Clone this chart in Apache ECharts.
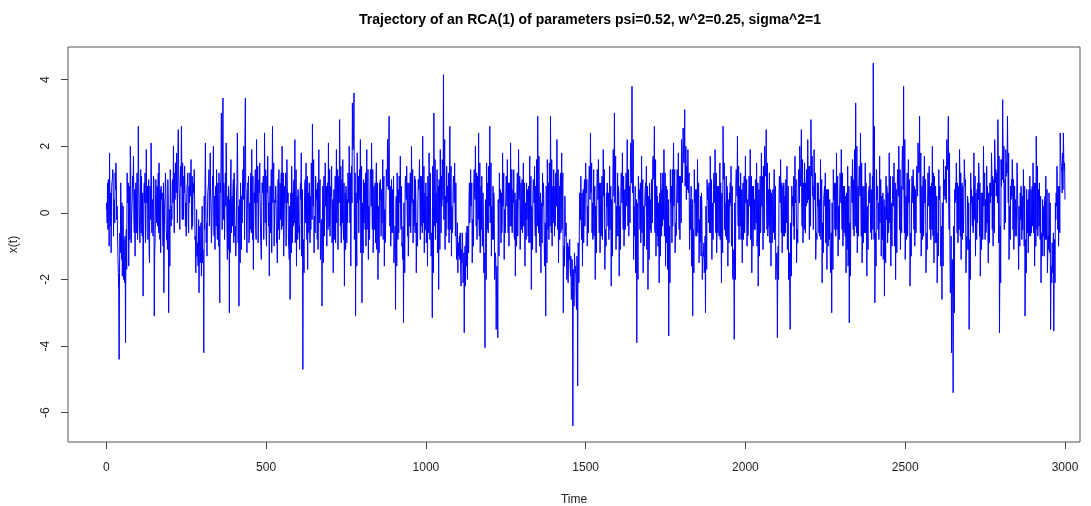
<!DOCTYPE html>
<html><head><meta charset="utf-8">
<script src="https://cdn.jsdelivr.net/npm/echarts@6/dist/echarts.min.js"></script>
<style>html,body{margin:0;padding:0;background:#fff}#c{width:1091px;height:506px}</style>
</head><body><div id="c"></div>
<script>
const TITLE = "Trajectory of an RCA(1) of parameters psi=0.52, w^2=0.25, sigma^2=1";
const X_NAME = "Time";
const Y_NAME = "x(t)";
const X_TICKS = [0, 500, 1000, 1500, 2000, 2500, 3000];
const Y_TICKS = [-6, -4, -2, 0, 2, 4];
const STEP = 5; // time spacing between read values of one array
// values read at t = 0, 5, 10, ...
const values = [
 0.1,-0.5,1.8,-1.2,1.3,0.4,1.5,-0.6,-4.4,0.9,-1.9,-0.8,-3.9,1.2,-1.6,2.0,-0.3,1.7,-1.3,0.6,
 2.6,-0.9,1.1,-2.5,0.3,1.9,-0.8,-1.5,2.1,0.2,-3.1,1.0,-0.4,1.5,-1.2,0.6,-2.4,1.2,-0.7,-3.0,
 1.3,-0.2,2.0,0.4,1.8,2.5,-0.5,2.6,0.2,1.4,-0.7,1.2,0.3,1.6,-0.4,1.3,-1.8,-0.9,-2.4,-1.2,
 0.2,-4.2,2.1,-1.3,0.9,1.8,-0.6,2.0,-1.1,1.3,0.1,-2.7,3.0,3.45,-0.8,2.1,0.5,-3.0,1.6,-0.4,
 1.2,-1.3,2.4,-2.8,0.9,-0.3,2.0,3.45,-1.2,1.1,-0.5,1.9,-1.7,0.8,2.2,-0.9,1.5,-1.4,0.6,2.4,
 -0.6,1.7,-1.9,0.4,2.6,-1.0,0.8,-1.5,1.3,-0.2,2.0,-1.3,0.6,1.6,-0.9,-2.6,1.4,-0.4,2.2,-1.6,
 0.7,-1.1,1.8,-4.7,0.3,1.5,-1.7,0.9,-0.5,2.67,-1.2,1.1,-0.8,1.9,-1.4,-2.8,0.6,1.5,-1.0,2.1,
 -0.7,1.4,-1.8,0.5,1.9,-1.1,2.8,-0.9,1.6,-2.2,0.8,-0.3,2.0,-1.6,3.3,3.6,-3.1,1.8,-0.6,2.2,
 -2.7,1.0,-0.5,1.9,-1.4,0.6,2.1,-1.2,0.3,1.5,-2.0,0.9,-0.7,1.6,-1.6,0.4,2.2,2.9,-1.0,0.7,
 -1.5,-2.9,1.2,-0.6,1.7,-1.0,-3.3,0.8,1.4,-1.3,0.5,2.0,-0.9,1.1,-1.8,0.3,1.6,-0.4,2.3,-1.2,
 0.9,-1.6,1.8,-0.3,-3.15,3.0,-0.8,1.3,-2.3,1.9,0.2,4.15,-1.1,1.4,-0.5,2.6,-1.3,0.7,1.5,-0.9,
 -1.8,-0.7,-2.2,-0.9,-3.6,-1.1,-2.0,0.4,1.3,-1.5,0.9,2.0,-0.8,2.4,-1.2,1.1,-0.4,-4.05,1.5,-0.6,
 2.6,-1.3,0.8,-2.0,-3.5,-3.75,1.2,-0.9,1.8,-1.4,0.5,1.6,-1.0,2.1,-0.6,1.3,-1.9,0.7,1.9,-1.1,
 0.4,1.5,-1.6,0.9,-0.7,1.7,-2.3,0.6,1.4,-1.2,2.9,0.1,-1.8,1.2,-0.5,-3.1,1.6,-0.8,2.9,-1.0,
 1.3,-0.4,2.2,-1.5,0.8,1.8,-3.0,0.5,-1.3,-2.1,-0.8,-2.6,-6.4,-1.2,-2.4,-5.2,-0.7,1.1,-1.6,0.6,
 1.5,-1.0,0.9,2.4,-0.6,1.3,-2.0,0.7,1.6,-1.2,0.3,1.9,-1.7,0.6,-0.4,1.4,-2.2,0.8,3.0,-1.1,
 1.2,-1.9,0.6,1.8,-1.0,0.4,2.2,-0.7,1.5,3.8,-1.4,0.8,-3.9,1.1,-0.5,1.7,-1.8,0.3,1.4,-2.3,
 0.9,-0.6,1.6,2.6,-1.3,0.5,-2.1,1.2,-0.4,1.9,-1.6,0.7,-3.7,1.3,-0.9,2.1,-1.2,0.6,1.8,-0.8,
 2.2,2.55,3.1,0.4,1.9,-1.1,0.8,-3.1,1.3,-0.7,1.6,-1.5,0.5,-2.0,-0.9,-3.0,1.0,-0.3,1.7,-1.4,
 0.7,1.9,-1.2,0.4,1.5,-2.1,2.6,-0.5,1.1,-1.6,0.6,1.4,-1.9,-3.8,0.9,2.3,-0.8,1.2,-1.5,0.5,
 1.7,-1.0,0.3,1.9,-1.8,0.8,-0.5,1.5,-2.2,0.6,1.8,-1.1,2.0,2.5,-0.7,1.2,-1.6,0.4,1.3,-2.0,
 -3.75,0.5,1.6,-1.2,0.9,-0.6,1.4,-2.0,-3.5,0.8,-0.4,1.7,-1.5,0.6,2.0,2.5,-0.9,1.5,0.2,2.2,
 -0.8,2.8,0.5,1.9,-1.4,0.9,-0.6,1.6,-2.1,0.4,1.2,-1.7,0.7,-0.9,-3.0,1.3,-0.5,1.8,-1.3,0.6,
 1.9,-1.0,0.8,-1.8,1.4,-3.3,0.5,1.6,-0.7,3.3,-1.2,0.9,2.4,-1.5,0.3,1.5,-1.9,0.6,1.2,-0.8,
 4.5,-2.7,1.3,-0.5,1.7,-1.3,0.6,-2.5,1.1,-0.9,1.8,-1.6,0.4,1.5,-2.0,0.8,2.0,-1.1,1.2,3.8,
 -1.4,0.7,1.6,-2.2,0.5,1.3,-1.0,0.9,2.1,2.9,-1.3,0.6,1.7,-1.8,0.3,1.4,-0.8,2.0,-1.5,0.8,
 -2.1,1.3,-0.6,-2.6,1.6,0.4,2.2,2.9,-1.2,-4.2,-5.4,0.7,1.5,-0.9,1.9,-1.4,0.8,1.6,-1.8,0.5,
 -3.5,1.2,-0.4,1.8,-1.3,0.7,1.5,-1.9,0.3,2.0,-0.8,1.4,-1.5,0.9,1.8,-1.0,2.2,0.5,2.8,-3.6,
 1.6,3.4,-0.5,1.9,2.9,-1.4,0.8,1.6,-1.1,0.4,1.5,-1.7,0.6,-0.8,1.3,-3.1,0.7,-1.2,1.1,-0.6,
 1.5,-1.6,2.3,-0.7,0.9,-2.1,0.4,-1.3,1.1,-1.8,0.6,-3.5,-0.9,-3.55,0.3,1.4,-1.0,2.4,1.2,2.4,0.4
];
// values read at t = 1.25, 6.25, 11.25, ...
const valuesQ1 = [
 0.3,1.0,0.2,0.6,1.1,-0.3,0.9,-1.3,-1.8,-0.2,-1.1,-1.6,-1.0,0.6,-0.4,1.3,0.5,-0.2,0.4,1.2,
 1.1,0.2,-0.5,-1.1,1.2,0.3,-0.2,0.8,0.9,-0.7,-1.2,0.2,0.6,-0.1,0.8,-0.4,-0.9,0.7,-1.1,-0.8,
 0.6,0.9,0.4,1.5,0.8,1.3,0.9,1.1,-0.2,0.6,0.3,-0.3,1.2,0.2,0.7,0.4,-0.9,-1.4,-1.0,-0.3,
 -1.5,0.5,0.4,-0.2,1.3,0.5,0.3,-0.4,0.6,-0.3,-1.0,0.9,1.6,-0.2,0.5,1.2,-1.1,0.4,-0.6,0.7,
 0.2,-0.8,1.1,-0.6,-0.2,0.9,1.4,0.8,0.1,-0.9,0.9,0.2,-0.4,1.3,0.3,-0.2,0.4,0.2,1.1,0.7,
 -1.0,0.5,0.2,1.3,0.3,-0.3,0.4,0.2,-0.8,0.7,0.4,-0.5,1.2,0.8,-1.1,-0.2,0.5,0.9,-0.9,0.2,
 0.1,0.6,-1.3,-0.8,0.9,0.3,0.2,-0.4,1.5,0.6,-0.1,0.4,0.9,-0.3,-1.2,-0.4,1.1,0.2,0.5,0.6,
 0.2,-0.9,0.3,1.1,-0.3,0.5,1.3,0.2,-0.5,-0.3,0.3,1.2,0.6,0.2,2.0,-0.8,0.6,0.3,0.8,-1.2,
 0.3,-0.3,1.2,-0.5,0.2,1.3,0.4,-0.5,0.9,-1.1,0.2,0.4,0.7,-0.8,0.1,1.3,1.4,0.2,-0.3,-0.5,
 -1.1,0.4,0.2,1.1,-0.3,-0.9,0.3,1.1,0.2,-0.7,1.2,0.3,0.4,-0.6,-0.3,1.0,0.5,0.8,0.2,0.4,
 -0.9,1.1,0.2,-1.3,1.4,0.3,0.4,-1.2,1.0,0.6,1.6,-0.2,0.5,0.3,1.2,-0.5,0.2,1.1,0.3,-1.4,
 -0.9,-1.4,-1.1,-2.1,-1.5,-0.6,-0.4,0.9,0.2,-0.2,1.3,0.6,1.1,-0.3,0.2,-1.0,-1.8,0.3,0.6,1.4,
 -0.3,0.2,-0.8,-1.7,-1.9,0.4,0.3,0.6,0.2,0.1,1.1,0.2,0.6,0.4,0.3,-0.7,-0.2,1.2,0.4,-0.2,
 1.0,-0.4,0.3,-0.2,0.8,-0.9,0.2,1.0,-0.3,1.6,0.5,-1.0,0.3,0.2,-1.6,0.8,0.4,1.5,0.3,0.4,
 0.3,1.2,0.6,-0.2,1.2,-0.5,-1.3,-0.4,-2.0,-1.2,-1.6,-2.5,-1.7,-1.6,-2.9,-0.9,0.6,-0.3,-0.2,1.0,
 0.7,0.2,1.4,0.6,0.3,-0.7,0.2,1.3,0.3,-0.3,1.1,0.5,-0.9,0.2,0.6,-0.5,0.4,1.9,0.3,0.2,
 -0.7,0.2,1.2,0.4,-0.3,1.2,0.6,0.4,2.1,0.7,0.2,-1.8,0.3,0.4,0.9,-0.6,0.2,0.7,-1.1,0.3,
 0.2,1.0,1.7,-0.5,-0.2,-1.0,0.4,0.3,1.2,-0.7,0.2,-1.7,-0.4,0.3,1.3,0.2,-0.3,1.3,0.4,1.1,
 1.6,1.8,0.8,1.4,0.6,0.2,-1.6,-0.5,0.3,0.7,-0.6,-0.2,-1.3,-1.4,-1.8,0.2,0.4,0.9,-0.6,0.3,
 1.2,0.3,-0.4,0.8,-0.8,0.6,1.2,0.3,-0.8,0.4,0.2,-1.0,-2.0,0.3,1.3,0.2,0.4,-0.8,0.1,1.1,
 0.3,0.4,1.1,-0.8,0.2,-0.2,1.0,-1.0,0.3,1.1,0.2,1.4,1.5,0.2,-0.3,-0.9,0.6,0.7,-0.8,-1.7,
 -1.5,1.1,0.3,-0.1,0.4,1.0,-1.1,-1.6,-0.3,0.2,1.1,0.3,-0.6,1.3,1.4,0.3,0.6,0.5,1.3,0.9,
 1.4,1.6,0.8,0.4,-0.7,0.2,0.4,-0.8,-0.3,0.6,-0.9,0.2,-0.3,-1.8,0.3,0.4,0.9,-0.5,0.2,1.2,
 0.3,-0.4,0.2,0.6,-1.6,-0.3,1.1,0.3,1.9,0.3,-0.3,1.4,0.5,-0.8,0.8,-0.6,0.2,0.7,-0.2,0.3,
 1.2,-1.1,0.4,0.3,-0.3,0.5,-1.4,0.2,-0.2,0.6,-0.3,0.3,1.1,-1.0,0.2,1.3,0.4,-0.2,2.0,0.4,
 -0.3,1.2,0.3,-1.2,1.1,0.2,-0.3,1.4,1.6,0.5,-0.4,1.1,0.3,-0.9,1.2,0.4,0.6,-0.6,1.1,0.2,
 -1.3,0.4,-1.6,0.3,0.5,1.4,1.7,0.3,-2.4,-2.0,-0.4,0.3,0.6,-0.3,1.1,0.2,-0.2,1.1,-1.2,0.4,
 -1.4,0.3,0.5,-0.2,0.6,-0.3,1.1,-0.8,0.6,0.2,0.4,-0.3,0.6,0.3,1.2,0.6,1.5,1.1,1.6,-1.7,
 0.8,1.9,0.6,1.1,1.7,0.2,0.4,1.1,0.3,-0.3,0.9,0.2,-0.2,0.5,-0.4,-1.4,-0.3,0.2,-0.4,0.3,
 0.4,-0.2,1.2,0.2,-0.4,-1.1,-0.2,0.3,-0.3,-1.2,-0.5,-1.6,-1.8,-1.5,-0.2,0.5,0.3,1.8,0.6,1.6
];
// values read at t = 2.5, 7.5, 12.5, ...
const valuesMid = [
 -0.3,0.8,-0.4,0.9,-0.7,1.2,-0.2,-1.8,-0.6,-1.4,0.2,-2.1,-0.5,0.3,0.8,-0.9,1.1,-0.6,0.9,-0.8,
 0.4,1.3,-0.7,0.6,-0.9,0.5,1.0,0.7,-0.6,1.1,-0.9,-0.3,1.2,-0.8,0.4,-1.0,0.3,-0.5,1.0,0.1,
 -0.4,1.0,-0.6,1.2,-0.3,0.7,1.4,-0.2,1.1,-0.4,0.8,-0.6,1.0,-0.5,0.9,-0.8,0.1,-1.6,-0.4,-1.9,
 -1.1,-0.5,-0.9,0.6,-0.4,0.3,1.1,-0.7,0.8,-0.8,1.2,0.6,-0.5,0.9,1.2,-0.6,0.8,-1.2,0.3,1.0,
 -0.7,0.5,-0.9,0.4,-1.1,1.3,-0.8,0.6,0.9,-0.7,1.2,-0.8,0.6,-0.5,0.4,1.0,-0.6,0.9,-0.8,-0.3,
 1.1,-0.4,0.8,-1.2,0.9,0.4,-0.9,1.0,-0.6,1.2,-0.4,0.8,-1.0,0.3,-1.4,0.6,-0.9,1.0,-0.3,0.5,
 -0.6,0.9,-0.5,-1.2,1.0,-0.8,0.6,-0.9,1.3,0.2,-0.5,0.7,-1.1,0.4,-0.6,0.8,-0.7,0.3,0.9,-0.4,
 0.8,-0.6,0.7,-0.9,0.4,1.1,-0.4,1.0,-0.8,0.6,-0.9,1.2,-0.3,1.4,1.9,0.6,-0.4,0.8,1.3,-0.8,
 -0.6,0.9,-1.0,0.5,-0.6,1.1,-0.5,0.8,-0.9,0.5,-0.8,1.0,-0.3,0.9,-0.9,1.2,0.7,-0.4,1.0,-0.6,
 -0.9,0.5,-0.8,0.9,-0.5,-1.4,-0.3,0.6,-0.7,0.9,-0.6,0.8,-0.4,1.0,-0.6,0.7,-0.8,1.1,-0.3,0.6,
 -0.6,0.7,-0.8,-1.2,0.9,-0.4,0.6,-0.9,0.8,-0.6,1.3,0.5,-0.7,0.8,-0.9,1.0,-0.6,0.9,-0.7,-1.2,
 -1.3,-0.6,-1.5,-1.8,-1.0,-1.6,-0.8,-0.3,0.7,-0.6,0.5,-0.4,1.0,-0.7,0.8,-0.9,-1.5,0.4,-0.5,1.1,
 0.5,-0.8,0.6,-1.2,-1.6,-0.4,0.7,-0.6,0.9,-0.5,0.8,-0.6,0.9,-0.4,0.7,-0.8,0.4,-0.7,0.6,0.9,
 -0.6,0.8,-0.4,0.7,-0.9,0.6,-0.5,0.8,-0.7,1.1,-0.6,0.5,-0.8,0.9,-0.9,0.7,-0.5,1.0,-0.6,0.8,
 -0.7,0.9,-0.5,0.8,-0.6,0.9,-1.0,-0.7,-1.5,-1.0,-1.9,-1.4,-2.2,-1.8,-1.3,-1.0,0.4,-0.8,0.7,-0.4,
 0.6,-0.5,1.1,0.7,-0.8,0.6,-0.7,1.0,-0.6,0.9,-0.8,0.7,-0.5,0.9,-0.8,0.6,-0.6,1.2,0.5,-0.7,
 0.8,-0.6,0.9,-0.5,0.7,1.0,-0.4,0.8,1.3,0.6,-0.7,-1.2,-0.8,0.7,-0.9,0.6,-0.7,0.9,-0.6,0.5,
 -0.5,0.8,1.2,-0.6,0.8,-0.9,0.6,-0.7,0.9,-0.6,0.8,-1.1,-0.6,0.5,-0.4,0.9,-0.7,1.0,-0.5,1.0,
 0.9,1.5,1.2,1.0,0.6,0.4,-0.8,-0.9,0.5,-0.7,0.8,-0.9,0.6,-1.2,-1.5,-0.6,0.8,-0.6,0.7,-0.5,
 0.9,-0.6,0.8,-0.7,0.9,-0.5,1.0,-0.7,0.8,-0.6,0.9,-0.8,-1.4,-0.5,0.9,-0.4,0.8,-0.6,0.9,-0.6,
 0.6,-0.7,0.9,-0.6,0.8,-0.5,0.9,-0.8,0.7,-0.6,0.8,0.7,1.1,-0.5,0.7,-0.9,0.6,-0.6,0.7,-1.3,
 -1.0,0.7,-0.6,0.8,-0.7,0.9,-0.6,-1.2,-0.6,0.5,-0.8,0.7,-0.5,1.0,0.8,-0.4,0.9,-0.6,0.9,0.4,
 0.8,1.1,-0.5,0.7,-0.6,0.9,-0.7,0.6,-0.9,0.8,-0.6,0.7,-0.8,-1.2,-0.6,0.9,-0.7,0.8,-0.6,0.9,
 -0.5,0.8,-0.7,0.6,-1.0,-0.6,0.9,-0.5,1.2,-0.6,0.8,1.0,-0.7,0.8,-0.6,0.9,-0.7,0.8,-0.6,1.1,
 -0.8,-0.6,0.7,-0.8,0.9,-0.6,-0.9,-0.4,0.8,-0.6,0.9,-0.7,0.8,-0.6,0.7,0.9,-0.5,0.8,1.3,-0.6,
 0.5,-0.7,0.8,-0.6,0.9,-0.5,0.7,1.0,1.2,-0.6,0.8,-0.7,0.9,-0.6,0.8,-0.5,0.9,-0.7,0.6,-0.9,
 -0.6,0.7,-1.2,-0.6,0.9,1.0,1.3,-0.5,-1.8,-1.4,-0.8,0.9,-0.6,0.8,-0.7,0.9,-0.6,0.8,-0.7,-1.1,
 -0.8,0.7,-0.6,0.8,-0.5,0.9,-0.7,0.6,-0.8,0.9,-0.6,0.8,-0.7,0.9,-0.5,1.0,0.9,1.2,-0.9,-0.4,
 1.6,0.9,1.0,1.5,0.3,-0.6,1.0,-0.5,0.8,-0.7,0.9,-0.6,0.8,-0.5,-1.0,-0.8,-0.6,0.7,-0.7,0.8,
 -0.6,0.9,-0.5,0.7,-0.8,-0.6,-0.7,0.5,-0.8,-0.7,-1.2,-1.8,-1.4,-0.8,0.6,-0.5,0.8,1.5,1.8,1.3
];
// values read at t = 3.75, 8.75, 13.75, ...
const valuesQ3 = [
 0.9,-1.0,0.6,1.0,0.3,0.7,0.2,-2.3,-1.2,0.3,-2.0,-0.7,-1.7,0.9,-0.8,-0.3,0.8,0.7,-0.6,-0.4,
 -0.3,-0.6,0.6,0.9,-0.5,0.8,-1.1,-0.2,0.4,1.0,0.3,0.8,-0.6,0.7,0.4,0.9,0.5,-0.8,0.3,-1.6,
 0.2,0.3,1.2,0.6,1.6,0.4,0.8,1.5,0.6,0.3,0.9,0.8,0.5,1.1,0.6,-0.7,-1.3,-0.2,-1.5,-0.6,
 -1.6,0.7,-0.3,0.6,0.2,-0.9,0.8,0.5,-0.4,0.9,-1.5,1.4,2.1,0.5,0.2,-1.4,0.6,0.8,0.5,-0.9,
 -0.4,0.9,0.2,-1.5,0.5,0.4,2.2,-0.4,0.8,0.3,-0.6,1.1,0.3,-0.8,1.4,0.6,-0.6,0.7,-0.2,1.3,
 0.6,0.3,-0.6,0.8,1.5,0.3,-0.5,-0.5,0.9,-0.5,1.2,0.3,-0.3,0.6,0.2,-1.2,0.6,-0.3,1.3,-0.8,
 -0.4,0.4,0.7,-1.8,-0.3,1.1,-0.6,0.5,-0.2,1.6,-0.6,0.4,0.3,1.0,-0.2,-1.5,0.2,0.8,-0.5,1.3,
 0.5,0.4,-0.8,0.2,1.3,0.3,1.4,-0.3,0.9,-1.1,0.4,0.3,1.2,0.3,2.4,1.2,-1.6,1.1,0.4,1.4,
 -1.2,0.3,0.4,1.3,-0.8,0.2,1.3,-0.5,0.6,0.9,-1.2,0.3,0.5,1.1,-0.5,0.8,2.0,0.8,-0.6,1.1,
 -0.4,-1.6,0.7,0.3,0.8,-0.4,-1.8,0.4,0.9,-0.4,0.2,1.3,-0.3,0.4,-1.0,0.9,1.1,-0.6,1.4,-0.5,
 0.5,-0.6,1.2,-0.6,-1.8,1.6,-0.3,0.8,-1.1,1.1,0.4,2.2,-0.4,0.6,0.2,1.4,-0.5,0.3,0.9,-0.3,
 -1.0,-1.6,-0.6,-1.2,-2.2,-0.4,-1.2,0.2,0.9,-1.0,0.4,1.2,-0.2,1.5,-0.5,0.6,-1.2,-2.0,0.9,0.2,
 1.5,-0.5,0.3,-1.4,-2.2,-1.3,0.6,-0.3,1.2,-0.6,0.2,0.9,-0.4,1.3,0.3,0.6,-1.0,0.3,1.1,-0.5,
 0.2,0.9,-0.8,0.4,-0.2,1.1,-1.1,0.3,0.8,-0.4,1.7,0.6,-0.9,0.6,-0.3,-1.5,0.9,-0.4,1.6,-0.3,
 0.8,0.2,1.3,-0.8,0.3,1.2,-1.6,-0.3,-0.9,-1.4,-1.3,-1.9,-2.8,-1.6,-1.5,-2.1,-0.2,0.6,-0.9,0.3,
 1.0,-0.6,0.4,1.5,-0.2,0.8,-1.2,0.4,0.9,-0.7,0.2,1.3,-1.0,0.3,-0.2,0.8,-1.3,0.5,1.7,-0.5,
 0.6,-1.1,0.3,1.1,-0.5,0.2,1.3,-0.3,0.9,2.2,-0.6,0.4,-2.0,0.6,-0.2,1.0,-1.0,0.2,0.8,-1.4,
 0.4,-0.3,1.0,1.6,-0.7,0.3,-1.3,0.7,-0.2,1.2,-0.9,0.4,-2.1,0.8,-0.4,1.3,-0.6,0.3,1.1,-0.3,
 1.5,1.9,2.0,0.7,1.2,-0.5,0.4,-1.8,0.7,-0.3,0.9,-0.8,0.2,-1.3,-0.7,-1.7,0.5,-0.2,1.0,-0.8,
 0.3,1.2,-0.6,0.2,0.9,-1.2,1.5,-0.3,0.6,-0.9,0.3,0.8,-1.1,-2.0,0.5,1.4,-0.4,0.7,-0.8,0.3,
 1.0,-0.6,0.2,1.1,-1.0,0.4,-0.3,0.9,-1.3,0.3,1.1,-0.6,1.3,1.5,-0.4,0.7,-0.9,0.2,0.8,-1.2,
 -2.0,0.3,0.9,-0.7,0.5,-0.3,0.8,-1.2,-1.9,0.4,-0.2,1.0,-0.9,0.3,1.3,1.6,-0.5,0.9,0.3,1.4,
 -0.4,1.7,0.3,1.2,-0.8,0.5,-0.3,1.0,-1.2,0.2,0.7,-1.0,0.4,-0.6,-1.7,0.8,-0.3,1.1,-0.8,0.3,
 1.2,-0.6,0.5,-1.1,0.8,-1.9,0.3,1.0,-0.4,2.0,-0.7,0.5,1.5,-0.9,0.2,0.9,-1.1,0.3,0.7,-0.5,
 2.6,-1.6,0.8,-0.3,1.0,-0.8,0.4,-1.5,0.6,-0.5,1.1,-1.0,0.2,0.9,-1.2,0.5,1.3,-0.6,0.7,2.2,
 -0.8,0.4,1.0,-1.3,0.3,0.8,-0.6,0.5,1.3,1.8,-0.8,0.3,1.0,-1.1,0.2,0.8,-0.5,1.2,-0.9,0.5,
 -1.3,0.8,-0.4,-1.6,1.0,0.3,1.3,1.8,-0.7,-2.6,-3.0,0.4,0.9,-0.5,1.2,-0.8,0.5,1.0,-1.1,0.3,
 -2.0,0.7,-0.3,1.1,-0.8,0.4,0.9,-1.1,0.2,1.2,-0.5,0.8,-0.9,0.5,1.1,-0.6,1.3,0.3,1.7,-2.1,
 1.0,2.0,-0.3,1.2,1.8,-0.8,0.5,1.0,-0.7,0.3,0.9,-1.0,0.4,-0.5,0.8,-1.8,0.4,-0.7,0.7,-0.4,
 0.9,-1.0,1.4,-0.4,0.5,-1.3,0.2,-0.8,0.7,-1.1,0.3,-2.1,-0.6,-2.1,0.2,0.8,-0.6,1.4,0.7,1.5
];
const points = [];
values.forEach((v, i) => {
  points.push([i * STEP, v]);
  if (valuesQ1[i] !== undefined) points.push([i * STEP + STEP * 0.25, valuesQ1[i]]);
  if (valuesMid[i] !== undefined) points.push([i * STEP + STEP * 0.5, valuesMid[i]]);
  if (valuesQ3[i] !== undefined) points.push([i * STEP + STEP * 0.75, valuesQ3[i]]);
});

const chart = echarts.init(document.getElementById('c'), null, {renderer: 'canvas'});
const FONT = 'Liberation Sans, Arial, sans-serif';
chart.setOption({
  animation: false,
  backgroundColor: '#fff',
  title: {
    text: TITLE, left: 585, top: 8, textAlign: 'center',
    textStyle: {fontFamily: FONT, fontSize: 14, fontWeight: 'bold', color: '#000'}
  },
  grid: {left: 68, right: 11, top: 47, bottom: 64, containLabel: false, outerBoundsMode: 'none',
         show: true, borderColor: '#555', borderWidth: 1, backgroundColor: 'transparent'},
  xAxis: {
    type: 'value', min: -120, max: 3047, position: 'bottom',
    name: X_NAME, nameLocation: 'middle', nameGap: 52,
    nameTextStyle: {fontFamily: FONT, fontSize: 12, color: '#222'},
    axisLine: {show: false, onZero: false},
    axisTick: {show: true, length: 7, customValues: X_TICKS, lineStyle: {color: '#444'}},
    axisLabel: {customValues: X_TICKS, margin: 20, fontFamily: FONT, fontSize: 12, color: '#222', formatter: v => String(v)},
    splitLine: {show: false}
  },
  yAxis: {
    type: 'value', min: -6.88, max: 4.98, position: 'left',
    name: Y_NAME, nameLocation: 'middle', nameGap: 48, nameRotate: 90,
    nameTextStyle: {fontFamily: FONT, fontSize: 12, color: '#222'},
    axisLine: {show: false, onZero: false},
    axisTick: {show: true, length: 7, customValues: Y_TICKS, lineStyle: {color: '#444'}},
    axisLabel: {customValues: Y_TICKS, rotate: 90, margin: 16, fontFamily: FONT, fontSize: 12, color: '#222', formatter: v => String(v)},
    splitLine: {show: false}
  },
  series: [{
    type: 'line', data: points, showSymbol: false, symbol: 'none', sampling: null,
    lineStyle: {color: '#0000ff', width: 1}, silent: true
  }]
});
</script></body></html>
